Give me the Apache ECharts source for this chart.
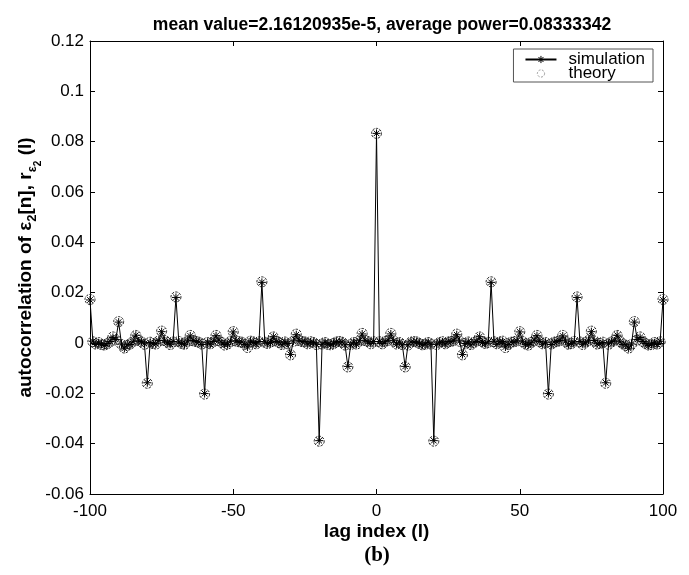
<!DOCTYPE html>
<html>
<head>
<meta charset="utf-8">
<script src="https://cdn.jsdelivr.net/npm/echarts@6/dist/echarts.min.js"></script>
<style>html,body{margin:0;padding:0;background:#fff;}#c{width:689px;height:575px;}</style>
</head>
<body>
<div id="c"></div>
<script>
const lagMin = -100;
const lagMax = 100;
const xTicks = [-100, -50, 0, 50, 100];
const yTicks = [-0.06, -0.04, -0.02, 0, 0.02, 0.04, 0.06, 0.08, 0.1, 0.12];
const titleText = 'mean value=2.16120935e-5, average power=0.08333342';

// theory autocorrelation, lags -100 .. 100
const theory = [
 0.0173,0.0005,-0.0004,0.0002,-0.0006,-0.0008,-0.0003,0.0005,0.0024,0.0012,
 0.0085,-0.0006,-0.0020,-0.0009,-0.0004,0.0006,0.0030,0.0010,0.0004,-0.0005,
 -0.0160,0.0003,-0.0002,-0.0004,0.0008,0.0047,0.0010,0.0003,-0.0006,0.0004,
 0.0183,0.0006,-0.0002,-0.0005,0.0007,0.0030,0.0009,0.0006,0.0003,-0.0004,
 -0.0203,0.0002,-0.0003,0.0005,0.0030,0.0009,0.0002,-0.0008,-0.0004,0.0006,
 0.0045,0.0008,0.0005,0.0003,-0.0005,-0.0018,0.0007,0.0004,-0.0003,0.0005,
 0.0243,0.0003,-0.0002,0.0004,0.0024,0.0008,0.0002,-0.0006,0.0004,-0.0003,
 -0.0047,0.0007,0.0035,0.0010,0.0006,0.0004,-0.0003,0.0005,0.0002,-0.0006,
 -0.0390,-0.0004,0.0002,-0.0005,-0.0007,-0.0002,0.0004,0.0006,0.0003,-0.0008,
 -0.0095,-0.0006,0.0002,-0.0004,0.0008,0.0038,0.0010,0.0006,-0.0003,0.0005,
 0.0833,
 0.0005,-0.0003,0.0006,0.0010,0.0038,0.0008,-0.0004,0.0002,-0.0006,-0.0095,
 -0.0008,0.0003,0.0006,0.0004,-0.0002,-0.0007,-0.0005,0.0002,-0.0004,-0.0390,
 -0.0006,0.0002,0.0005,-0.0003,0.0004,0.0006,0.0010,0.0035,0.0007,-0.0047,
 -0.0003,0.0004,-0.0006,0.0002,0.0008,0.0024,0.0004,-0.0002,0.0003,0.0243,
 0.0005,-0.0003,0.0004,0.0007,-0.0018,-0.0005,0.0003,0.0005,0.0008,0.0045,
 0.0006,-0.0004,-0.0008,0.0002,0.0009,0.0030,0.0005,-0.0003,0.0002,-0.0203,
 -0.0004,0.0003,0.0006,0.0009,0.0030,0.0007,-0.0005,-0.0002,0.0006,0.0183,
 0.0004,-0.0006,0.0003,0.0010,0.0047,0.0008,-0.0004,-0.0002,0.0003,-0.0160,
 -0.0005,0.0004,0.0010,0.0030,0.0006,-0.0004,-0.0009,-0.0020,-0.0006,0.0085,
 0.0012,0.0024,0.0005,-0.0003,-0.0008,-0.0006,0.0002,-0.0004,0.0005,0.0173
];

// simulated autocorrelation, lags -100 .. 100
const simulation = [
 0.0171,0.0007,-0.0006,0.0001,-0.0004,-0.0010,-0.0002,0.0006,0.0022,0.0014,
 0.0083,-0.0004,-0.0021,-0.0007,-0.0006,0.0005,0.0031,0.0008,0.0005,-0.0003,
 -0.0158,0.0002,-0.0004,-0.0003,0.0010,0.0045,0.0011,0.0001,-0.0005,0.0006,
 0.0181,0.0004,-0.0001,-0.0007,0.0008,0.0028,0.0010,0.0005,0.0004,-0.0006,
 -0.0201,0.0003,-0.0005,0.0006,0.0029,0.0011,0.0001,-0.0006,-0.0005,0.0007,
 0.0044,0.0009,0.0003,0.0004,-0.0006,-0.0016,0.0008,0.0002,-0.0004,0.0006,
 0.0241,0.0005,-0.0003,0.0002,0.0025,0.0006,0.0003,-0.0007,0.0005,-0.0002,
 -0.0046,0.0008,0.0033,0.0011,0.0005,0.0006,-0.0004,0.0004,0.0003,-0.0005,
 -0.0388,-0.0005,0.0003,-0.0004,-0.0008,-0.0001,0.0005,0.0004,0.0004,-0.0007,
 -0.0093,-0.0007,0.0003,-0.0005,0.0009,0.0036,0.0011,0.0005,-0.0002,0.0006,
 0.0833,
 0.0006,-0.0002,0.0005,0.0011,0.0036,0.0009,-0.0005,0.0003,-0.0007,-0.0093,
 -0.0007,0.0004,0.0004,0.0004,-0.0001,-0.0008,-0.0004,0.0003,-0.0005,-0.0388,
 -0.0005,0.0003,0.0004,-0.0004,0.0006,0.0005,0.0011,0.0033,0.0008,-0.0046,
 -0.0002,0.0005,-0.0007,0.0003,0.0006,0.0025,0.0002,-0.0003,0.0005,0.0241,
 0.0007,-0.0005,0.0005,0.0006,-0.0016,-0.0006,0.0004,0.0003,0.0009,0.0044,
 0.0007,-0.0005,-0.0006,0.0001,0.0011,0.0029,0.0006,-0.0005,0.0003,-0.0201,
 -0.0006,0.0004,0.0005,0.0010,0.0028,0.0008,-0.0007,-0.0001,0.0004,0.0181,
 0.0006,-0.0005,0.0001,0.0011,0.0045,0.0010,-0.0003,-0.0004,0.0002,-0.0158,
 -0.0003,0.0005,0.0008,0.0031,0.0005,-0.0006,-0.0007,-0.0021,-0.0004,0.0083,
 0.0014,0.0022,0.0006,-0.0002,-0.0010,-0.0004,0.0001,-0.0006,0.0007,0.0171
];

const pairs = arr => arr.map((v, i) => [lagMin + i, v]);

const asterisk = 'path://M0,-10 L0,10 M-10,0 L10,0 M-7,-7 L7,7 M-7,7 L7,-7';
const font = '"Liberation Sans", Arial, sans-serif';

const chart = echarts.init(document.getElementById('c'), null, {renderer: 'canvas'});

const commonAxis = {
  axisLine: {show: true, onZero: false, lineStyle: {color: '#000', width: 1}},
  axisTick: {show: true, inside: true, length: 5, lineStyle: {color: '#000'}},
  splitLine: {show: false}
};

chart.setOption({
  animation: false,
  backgroundColor: '#fff',
  title: {
    text: titleText,
    left: 377, textAlign: 'center', top: 11,
    textStyle: {fontFamily: font, fontWeight: 'bold', fontSize: 17.5, color: '#000'}
  },
  grid: {left: 90, right: 26, top: 41, bottom: 81, containLabel: false},
  legend: {
    orient: 'vertical',
    right: 36, top: 49,
    itemWidth: 31, itemHeight: 9, itemGap: -3,
    padding: [2, 8, 0, 11],
    backgroundColor: '#fff',
    borderColor: '#555', borderWidth: 1,
    textStyle: {fontFamily: font, fontSize: 17, lineHeight: 14, color: '#000', padding: [0, 0, 0, 7]},
    data: [
      {name: 'simulation', itemStyle: {color: 'rgba(0,0,0,0)', borderColor: '#000', borderWidth: 1}},
      {name: 'theory', itemStyle: {color: 'rgba(0,0,0,0)', borderColor: '#999', borderWidth: 1, borderType: [2, 1.5]}}
    ]
  },
  xAxis: [
    Object.assign({
      type: 'value', min: lagMin, max: lagMax, interval: 50, position: 'bottom',
      axisLabel: {fontFamily: font, fontSize: 17, color: '#000', margin: 9},
      name: 'lag index (l)', nameLocation: 'middle', nameGap: 28, nameMoveOverlap: false,
      nameTextStyle: {fontFamily: font, fontWeight: 'bold', fontSize: 19, color: '#000'}
    }, commonAxis),
    Object.assign({
      type: 'value', min: lagMin, max: lagMax, interval: 50, position: 'top',
      axisLabel: {show: false}
    }, commonAxis)
  ],
  yAxis: [
    Object.assign({
      type: 'value', min: -0.06, max: 0.12, interval: 0.02, position: 'left',
      axisLabel: {fontFamily: font, fontSize: 17, color: '#000', margin: 6},
      name: '{a|autocorrelation of ε}{s|2}{a|[n], r}{s|ε}{ss|2}{a| (l)}',
      nameLocation: 'middle', nameGap: 55, nameRotate: 90, nameMoveOverlap: false,
      nameTextStyle: {
        color: '#000',
        rich: {
          a: {fontFamily: font, fontWeight: 'bold', fontSize: 19, color: '#000', lineHeight: 26, verticalAlign: 'bottom'},
          s: {fontFamily: font, fontWeight: 'bold', fontSize: 13, color: '#000', lineHeight: 26, verticalAlign: 'bottom', padding: [0, 0, -4, 0]},
          ss: {fontFamily: font, fontWeight: 'bold', fontSize: 10, color: '#000', lineHeight: 26, verticalAlign: 'bottom', padding: [0, 0, -8, 0]}
        }
      }
    }, commonAxis),
    Object.assign({
      type: 'value', min: -0.06, max: 0.12, interval: 0.02, position: 'right',
      axisLabel: {show: false}
    }, commonAxis)
  ],
  series: [
    {
      name: 'theory', type: 'line', xAxisIndex: 0, yAxisIndex: 0,
      data: pairs(theory),
      symbol: 'circle', symbolSize: 10, showSymbol: true,
      lineStyle: {width: 0, opacity: 0},
      itemStyle: {color: 'rgba(0,0,0,0)', borderColor: '#222', borderWidth: 1, borderType: [2.5, 1.2]},
      z: 2
    },
    {
      name: 'simulation', type: 'line', xAxisIndex: 0, yAxisIndex: 0,
      data: pairs(simulation),
      symbol: asterisk, symbolSize: 8, showSymbol: true,
      lineStyle: {width: 1, color: '#000'},
      itemStyle: {color: 'rgba(0,0,0,0)', borderColor: '#000', borderWidth: 1},
      z: 3
    }
  ],
  graphic: [
    {
      type: 'text', x: 377, y: 545,
      style: {text: '(b)', font: 'bold 21px "Liberation Serif", "Times New Roman", serif', fill: '#000', textAlign: 'center', textVerticalAlign: 'top'}
    }
  ]
});
</script>
</body>
</html>
